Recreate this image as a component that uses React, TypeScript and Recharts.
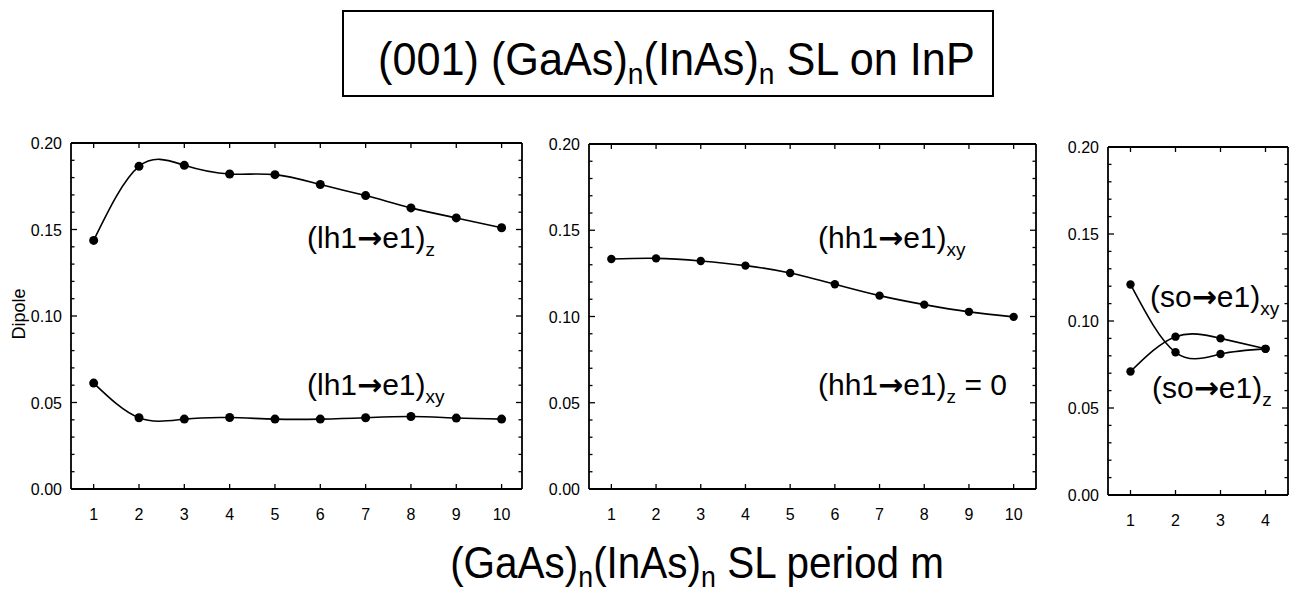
import { Line, LineChart, XAxis, YAxis } from "recharts";

const W = 1294;
const H = 592;
const FONT = "'Liberation Sans', Arial, Helvetica, sans-serif";

// period m
const periodLong = [1, 2, 3, 4, 5, 6, 7, 8, 9, 10];
const periodShort = [1, 2, 3, 4];

// dipoles
const lh1Z = [0.1437, 0.1865, 0.1871, 0.1821, 0.1817, 0.176, 0.1696, 0.1625, 0.1567, 0.151];
const lh1XY = [0.0612, 0.0412, 0.0404, 0.0413, 0.0404, 0.0404, 0.0412, 0.0419, 0.041, 0.0404];
const hh1XY = [0.1333, 0.1337, 0.1322, 0.1295, 0.1252, 0.1187, 0.1121, 0.1069, 0.1027, 0.0998];
const soXY = [0.121, 0.082, 0.081, 0.084];
const soZ = [0.071, 0.091, 0.09, 0.084];

const yTicks = [
  0, 0.01, 0.02, 0.03, 0.04, 0.05, 0.06, 0.07, 0.08, 0.09, 0.1,
  0.11, 0.12, 0.13, 0.14, 0.15, 0.16, 0.17, 0.18, 0.19, 0.2,
];
const yLabelled = [0, 0.05, 0.1, 0.15, 0.2];

const leftRows = periodLong.map((m, i) => ({ m, z: lh1Z[i], xy: lh1XY[i] }));
const midRows = periodLong.map((m, i) => ({ m, xy: hh1XY[i] }));
const rightRows = periodShort.map((m, i) => ({ m, xy: soXY[i], z: soZ[i] }));

const isMajor = (v: number) => yLabelled.some((t) => Math.abs(t - v) < 1e-9);

const LeftTick = (props: any) => {
  const { x, y, payload } = props;
  const major = isMajor(payload.value);
  return (
    <g>
      <line x1={x} y1={y} x2={x + (major ? 6 : 3.5)} y2={y} stroke="#000" strokeWidth={1.3} />
      {major && (
        <text x={x - 9} y={y} dy={6} textAnchor="end" fontSize={16} fontFamily={FONT} fill="#000">
          {payload.value.toFixed(2)}
        </text>
      )}
    </g>
  );
};

const RightTick = (props: any) => {
  const { x, y, payload } = props;
  const major = isMajor(payload.value);
  return <line x1={x} y1={y} x2={x - (major ? 6 : 3.5)} y2={y} stroke="#000" strokeWidth={1.3} />;
};

const BottomTick = (props: any) => {
  const { x, y, payload } = props;
  return (
    <g>
      <line x1={x} y1={y} x2={x} y2={y - 5} stroke="#000" strokeWidth={1.3} />
      <text x={x} y={y + 31} textAnchor="middle" fontSize={16} fontFamily={FONT} fill="#000">
        {payload.value}
      </text>
    </g>
  );
};

const TopTick = (props: any) => {
  const { x, y } = props;
  return <line x1={x} y1={y} x2={x} y2={y + 5} stroke="#000" strokeWidth={1.3} />;
};

const frame = { stroke: "#000", strokeWidth: 1.8 };

type PanelProps = {
  rows: any[];
  series: string[];
  box: [number, number, number, number];
  xDomain: [number, number];
  xTicks: number[];
  dotR: number;
};

const Panel = ({ rows, series, box, xDomain, xTicks, dotR }: PanelProps) => {
  const [l, t, r, b] = box;
  return (
    <div style={{ position: "absolute", left: 0, top: 0 }}>
      <LineChart
        width={W}
        height={H}
        data={rows}
        margin={{ left: l - 60, top: t - 1, right: W - r - 1, bottom: H - b - 30 }}
      >
        <XAxis
          dataKey="m"
          type="number"
          domain={xDomain}
          ticks={xTicks}
          interval={0}
          allowDataOverflow
          height={30}
          tickLine={false}
          tickSize={0}
          tickMargin={0}
          axisLine={frame}
          tick={BottomTick}
        />
        <XAxis
          xAxisId="top"
          dataKey="m"
          orientation="top"
          type="number"
          domain={xDomain}
          ticks={xTicks}
          interval={0}
          allowDataOverflow
          height={1}
          tickLine={false}
          tickSize={0}
          tickMargin={0}
          axisLine={frame}
          tick={TopTick}
        />
        <YAxis
          type="number"
          domain={[0, 0.2]}
          ticks={yTicks}
          interval={0}
          allowDataOverflow
          width={60}
          tickLine={false}
          tickSize={0}
          tickMargin={0}
          axisLine={frame}
          tick={LeftTick}
        />
        <YAxis
          yAxisId="right"
          orientation="right"
          type="number"
          domain={[0, 0.2]}
          ticks={yTicks}
          interval={0}
          allowDataOverflow
          width={1}
          tickLine={false}
          tickSize={0}
          tickMargin={0}
          axisLine={frame}
          tick={RightTick}
        />
        {series.map((key) => (
          <Line
            key={key}
            dataKey={key}
            type="natural"
            stroke="#000"
            strokeWidth={1.6}
            dot={{ r: dotR, fill: "#000", stroke: "#000", strokeWidth: 0 }}
            isAnimationActive={false}
          />
        ))}
      </LineChart>
    </div>
  );
};

const Anno = ({ x, y, head, sub, tail }: { x: number; y: number; head: string; sub: string; tail?: string }) => (
  <text x={x} y={y} fontSize={30} fontFamily={FONT} fill="#000">
    {head}
    <tspan fontFamily="'DejaVu Sans'" fontWeight="bold" fontSize={30}>
      →
    </tspan>
    e1)
    <tspan fontSize={19} dy={8}>
      {sub}
    </tspan>
    {tail && <tspan dy={-8}>{tail}</tspan>}
  </text>
);

export default function App() {
  return (
    <div style={{ position: "absolute", left: 0, top: 0, width: W, height: H, background: "#fff" }}>
      <Panel rows={leftRows} series={["z", "xy"]} box={[71, 143, 522, 489]} xDomain={[0.5, 10.45]} xTicks={periodLong} dotR={4.5} />
      <Panel rows={midRows} series={["xy"]} box={[589, 144, 1036, 489]} xDomain={[0.5, 10.5]} xTicks={periodLong} dotR={4.2} />
      <Panel rows={rightRows} series={["xy", "z"]} box={[1108, 147, 1288, 495]} xDomain={[0.5, 4.5]} xTicks={periodShort} dotR={4.2} />
      <svg width={W} height={H} style={{ position: "absolute", left: 0, top: 0, pointerEvents: "none" }}>
        <rect x={343} y={11} width={650} height={85} fill="none" stroke="#000" strokeWidth={2} />
        <text transform="translate(378 75) scale(0.94 1)" fontSize={46} fontFamily={FONT}>
          (001) (GaAs)<tspan fontSize={30} dy={9}>n</tspan>
          <tspan dy={-9}>(InAs)</tspan>
          <tspan fontSize={30} dy={9}>n</tspan>
          <tspan dy={-9}> SL on InP</tspan>
        </text>
        <text transform="translate(697 578) scale(0.92 1)" fontSize={44} fontFamily={FONT} textAnchor="middle">
          (GaAs)<tspan fontSize={29} dy={9}>n</tspan>
          <tspan dy={-9}>(InAs)</tspan>
          <tspan fontSize={29} dy={9}>n</tspan>
          <tspan dy={-9}> SL period m</tspan>
        </text>
        <text x={25} y={314} fontSize={18} fontFamily={FONT} textAnchor="middle" transform="rotate(-90 25 314)">
          Dipole
        </text>
        <Anno x={307} y={248} head="(lh1" sub="z" />
        <Anno x={307} y={395} head="(lh1" sub="xy" />
        <Anno x={818} y={248} head="(hh1" sub="xy" />
        <Anno x={818} y={395} head="(hh1" sub="z" tail=" = 0" />
        <Anno x={1150} y={307} head="(so" sub="xy" />
        <Anno x={1152} y={398} head="(so" sub="z" />
      </svg>
    </div>
  );
}
